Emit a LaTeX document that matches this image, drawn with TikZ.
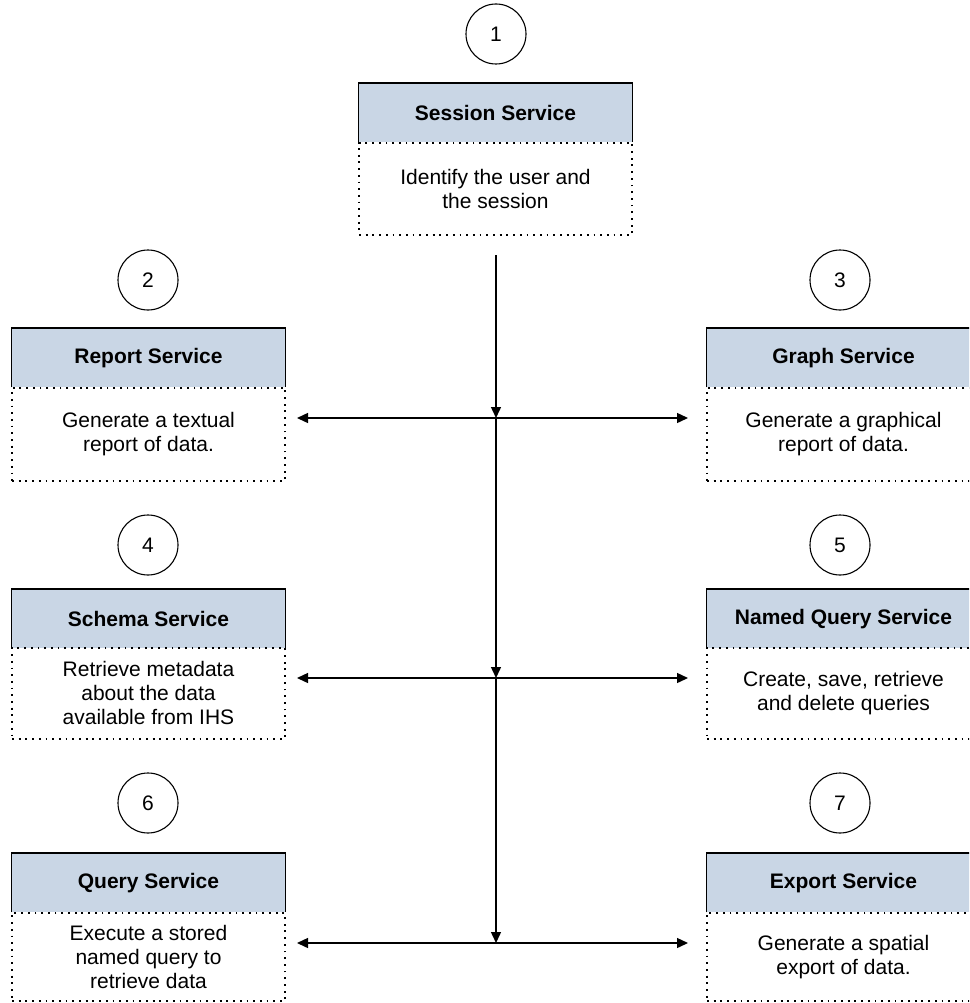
\documentclass[tikz,border=0pt]{standalone}
\usepackage{fontspec}
\setmainfont{Liberation Sans}
\usetikzlibrary{arrows.meta}
\definecolor{headfill}{RGB}{201,214,229}
\begin{document}
\begin{tikzpicture}[x=1pt,y=-1pt,
  every node/.style={font=\fontsize{21}{24}\selectfont},
  head/.style={fill=headfill, minimum width=273pt, minimum height=59pt,
    inner sep=0pt, anchor=north, font=\fontsize{21}{24}\selectfont\bfseries},
  body/.style={draw, line width=1.8pt, dash pattern=on 1.8pt off 4.9pt,
    minimum width=273pt, anchor=north, inner sep=0pt, align=center},
  num/.style={circle, draw, line width=1.1pt, minimum size=60pt, inner sep=0pt},
  headline/.style={line width=1.2pt},
  flow/.style={line width=1.4pt, -{Triangle[length=11pt,width=10pt]}},
  both/.style={line width=1.4pt, {Triangle[length=11pt,width=10pt]}-{Triangle[length=11pt,width=10pt]}},
]
\useasboundingbox (0,0) rectangle (969,1003);
\clip (0,0) rectangle (969,1003);

% numbered markers
\node[num] (n1) at (496,34) {1};
\node[num] (n2) at (148,280) {2};
\node[num] (n3) at (840,280) {3};
\node[num] (n4) at (148,545) {4};
\node[num] (n5) at (840,545) {5};
\node[num] (n6) at (148,803) {6};
\node[num] (n7) at (840,803) {7};

% service boxes: header and description
\node[head] (h1) at (495.5,83) {Session Service};
\node[body, minimum height=92pt] (b1) at (495.5,142) {Identify the user and\\the session};

\node[head] (h2) at (148.5,328) {Report Service};
\node[body, minimum height=93pt] (b2) at (148.5,387) {Generate a textual\\report of data.};

\node[head] (h3) at (843.5,328) {Graph Service};
\node[body, minimum height=93pt] (b3) at (843.5,387) {Generate a graphical\\report of data.};

\node[head] (h4) at (148.5,589) {Schema Service};
\node[body, minimum height=91pt] (b4) at (148.5,647) {Retrieve metadata\\about the data\\available from IHS};

\node[head] (h5) at (843.5,589) {Named Query Service};
\node[body, minimum height=91pt] (b5) at (843.5,647) {Create, save, retrieve\\and delete queries};

\node[head] (h6) at (148.5,853) {Query Service};
\node[body, minimum height=88pt] (b6) at (148.5,912) {Execute a stored\\named query to\\retrieve data};

\node[head] (h7) at (843.5,853) {Export Service};
\node[body, minimum height=88pt] (b7) at (843.5,912) {Generate a spatial\\export of data.};

% solid outline of each header
\foreach \h in {h1,h2,h3,h4,h5,h6,h7}
  \draw[headline] (\h.south west) -- (\h.north west) -- (\h.north east) -- (\h.south east);

% trunk and branch points
\coordinate (top) at (496,255);
\coordinate (j1) at (496,418);
\coordinate (j2) at (496,678);
\coordinate (j3) at (496,943);
\coordinate (l1) at (297,418);
\coordinate (r1) at (688,418);
\coordinate (l2) at (297,678);
\coordinate (r2) at (688,678);
\coordinate (l3) at (297,943);
\coordinate (r3) at (688,943);

\draw[flow] (top) -- (j1);
\draw[flow] (j1) -- (j2);
\draw[flow] (j2) -- (j3);
\draw[both] (l1) -- (r1);
\draw[both] (l2) -- (r2);
\draw[both] (l3) -- (r3);
\end{tikzpicture}
\end{document}
